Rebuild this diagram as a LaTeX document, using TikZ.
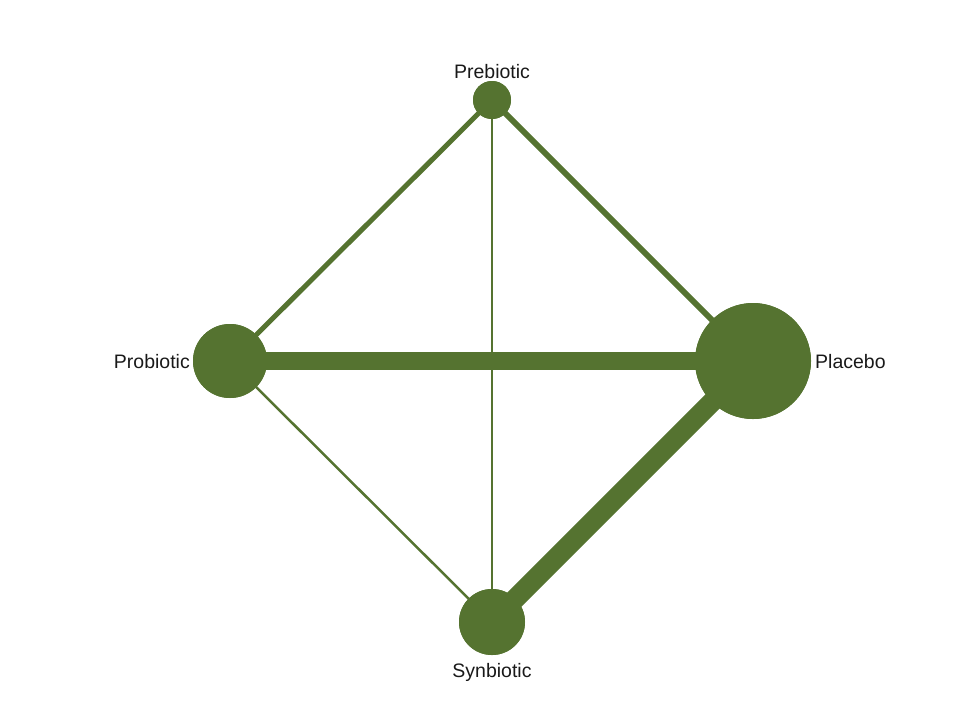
\documentclass[tikz,border=0pt]{standalone}
\usepackage{fontspec}
\setmainfont{Liberation Sans}
\definecolor{netgreen}{RGB}{85,115,48}
\begin{document}
\begin{tikzpicture}[x=1pt,y=-1pt,
  treat/.style={circle,fill=netgreen,draw=none,inner sep=0pt},
  link/.style={draw=netgreen,line cap=butt},
  lbl/.style={font=\fontsize{19.5}{22}\selectfont,inner sep=0pt,text=black!90}]
\useasboundingbox (0,0) rectangle (974,713);
% treatment nodes, sized by sample
\node[treat,minimum size=38pt]  (pre)  at (492,100) {};
\node[treat,minimum size=74pt]  (pro)  at (230,361) {};
\node[treat,minimum size=116pt] (pla)  at (753,361) {};
\node[treat,minimum size=66pt]  (syn)  at (492,622) {};
% comparisons, width by number of studies
\begin{scope}[on background layer/.try]
\draw[link,line width=5pt]  (pre.center) -- (pro.center);
\draw[link,line width=6pt]  (pre.center) -- (pla.center);
\draw[link,line width=2.5pt](pre.center) -- (syn.center);
\draw[link,line width=18pt] (pro.center) -- (pla.center);
\draw[link,line width=2.5pt](pro.center) -- (syn.center);
\draw[link,line width=20pt] (pla.center) -- (syn.center);
\end{scope}
% redraw the circles over the connectors
\node[treat,minimum size=38pt]  at (pre) {};
\node[treat,minimum size=74pt]  at (pro) {};
\node[treat,minimum size=116pt] at (pla) {};
\node[treat,minimum size=66pt]  at (syn) {};
% labels
\node[lbl,anchor=base]      (lpre) at (492,78)  {Prebiotic};
\node[lbl,anchor=base east] (lpro) at (190,368) {Probiotic};
\node[lbl,anchor=base west] (lpla) at (815,368) {Placebo};
\node[lbl,anchor=base]      (lsyn) at (492,677) {Synbiotic};
\end{tikzpicture}
\end{document}
